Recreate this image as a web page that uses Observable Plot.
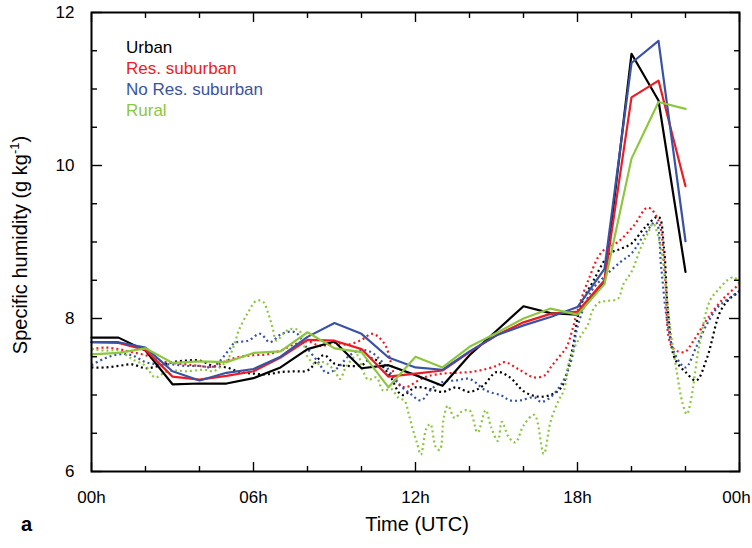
<!DOCTYPE html>
<html><head><meta charset="utf-8">
<script src="https://cdn.jsdelivr.net/npm/d3@7"></script>
<script src="https://cdn.jsdelivr.net/npm/@observablehq/plot@0.6"></script>
<style>body{margin:0;background:#fff;} svg{display:block}</style>
</head><body><div id="chart"></div>
<script>
// ---- categories / labels ----
const seriesNames = ["Urban", "Res. suburban", "No Res. suburban", "Rural"];
const seriesColors = ["#000000", "#ed1c24", "#3953a4", "#8dc63f"];
const xMajor = [0, 6, 12, 18, 24];
const xTickLabels = ["00h", "06h", "12h", "18h", "00h"];
const xMinor = [2, 4, 8, 10, 14, 16, 20, 22];
const yMajor = [6, 8, 10, 12];
const yMinor = [6.5, 7, 7.5, 8.5, 9, 9.5, 10.5, 11, 11.5];

// ---- solid lines: hourly values (00h .. 22h) ----
const hours = [0,1,2,3,4,5,6,7,8,9,10,11,12,13,14,15,16,17,18,19,20,21,22];
const urbanSolid    = [7.75,7.75,7.58,7.14,7.15,7.15,7.22,7.36,7.60,7.70,7.35,7.39,7.26,7.12,7.52,7.84,8.16,8.07,8.05,8.47,11.46,10.85,8.61];
const resSubSolid   = [7.69,7.68,7.59,7.24,7.20,7.25,7.31,7.49,7.72,7.71,7.60,7.24,7.28,7.32,7.56,7.78,7.95,8.06,8.09,8.50,10.89,11.11,9.73];
const noResSubSolid = [7.69,7.69,7.62,7.31,7.19,7.29,7.34,7.50,7.76,7.94,7.80,7.49,7.36,7.33,7.57,7.78,7.91,8.02,8.15,8.65,11.34,11.63,9.01];
const ruralSolid    = [7.53,7.55,7.61,7.42,7.44,7.43,7.55,7.57,7.82,7.61,7.56,7.10,7.50,7.36,7.63,7.81,8.00,8.13,8.05,8.45,10.09,10.83,10.74];

// ---- dotted lines: [hour, value] ----
const urbanDotted = [[0,7.36],[0.5,7.36],[1,7.38],[1.5,7.40],[2,7.35],[2.5,7.38],[3,7.43],[3.5,7.45],[4,7.45],[4.5,7.38],[5,7.36],[5.5,7.30],[6,7.28],[6.5,7.27],[7,7.30],[7.5,7.31],[8,7.32],[8.6,7.52],[9,7.41],[9.5,7.38],[10,7.39],[10.4,7.48],[11,7.28],[11.5,7.00],[12,7.10],[12.5,7.08],[13,7.04],[13.5,7.10],[14,7.04],[14.5,7.12],[15,7.30],[15.5,7.23],[16,7.05],[16.5,6.98],[17,7.00],[17.4,7.10],[17.8,7.58],[18.1,8.15],[18.6,8.50],[19.2,8.85],[19.6,8.91],[20,8.98],[20.5,9.19],[21,9.33],[21.2,8.93],[21.35,8.10],[21.6,7.48],[22,7.30],[22.4,7.19],[22.8,7.49],[23.3,8.10],[23.7,8.28],[24,8.34]];
const resSubDotted = [[0,7.60],[0.5,7.62],[1,7.60],[1.5,7.56],[2,7.52],[2.5,7.45],[3,7.42],[3.5,7.40],[4,7.38],[4.5,7.37],[5,7.45],[5.5,7.50],[6,7.52],[6.5,7.53],[7,7.58],[7.5,7.66],[8,7.70],[8.5,7.64],[9,7.68],[9.5,7.66],[10,7.72],[10.4,7.80],[10.85,7.67],[11.3,7.19],[11.6,7.10],[12.2,7.21],[12.5,7.25],[13,7.28],[13.5,7.29],[14,7.30],[14.5,7.33],[15,7.38],[15.3,7.43],[15.8,7.34],[16.4,7.23],[16.8,7.26],[17,7.36],[17.3,7.49],[17.6,7.63],[17.8,7.84],[18,8.10],[18.4,8.50],[18.9,8.87],[19.5,9.00],[20.1,9.22],[20.6,9.45],[21,9.28],[21.25,8.50],[21.5,7.63],[21.95,7.56],[22.3,7.71],[22.8,7.99],[23.4,8.26],[24,8.45]];
const noResSubDotted = [[0,7.39],[0.5,7.48],[1,7.53],[1.5,7.52],[2,7.43],[2.5,7.40],[3,7.40],[3.5,7.38],[4,7.38],[4.5,7.37],[5.07,7.58],[5.3,7.68],[5.8,7.71],[6.25,7.80],[6.6,7.69],[7.05,7.80],[7.55,7.82],[7.9,7.65],[8.4,7.43],[8.7,7.29],[9.1,7.35],[9.5,7.50],[9.9,7.58],[10.3,7.57],[10.85,7.40],[11.35,7.15],[11.8,7.02],[12.2,6.93],[12.6,7.08],[13,7.17],[13.5,7.19],[14,7.21],[14.6,7.06],[15.2,6.99],[15.5,6.93],[15.9,6.93],[16.4,6.97],[16.65,6.91],[17,6.97],[17.4,7.14],[17.6,7.28],[17.8,7.49],[18,7.89],[18.5,8.35],[19,8.55],[19.6,8.74],[20,8.85],[20.5,9.11],[20.9,9.26],[21.1,8.67],[21.3,8.02],[21.6,7.54],[22,7.36],[22.4,7.63],[22.8,7.93],[23.2,8.15],[23.6,8.26],[24,8.36]];
const ruralDotted = [[0,7.60],[0.5,7.58],[1,7.58],[1.5,7.47],[2,7.38],[2.35,7.23],[2.75,7.30],[3.1,7.32],[3.5,7.31],[4.2,7.33],[4.5,7.31],[4.85,7.39],[5.1,7.50],[5.3,7.67],[5.45,7.84],[5.8,8.08],[6.1,8.23],[6.35,8.22],[6.55,8.06],[6.7,7.89],[6.85,7.71],[7.1,7.80],[7.35,7.86],[7.7,7.84],[8.0,7.50],[8.3,7.40],[8.6,7.43],[9.0,7.32],[9.2,7.21],[9.45,7.38],[9.85,7.52],[10.05,7.32],[10.25,7.20],[10.55,7.23],[10.8,7.06],[11.1,7.08],[11.35,6.97],[11.6,6.92],[11.75,6.75],[11.9,6.55],[12.05,6.38],[12.2,6.22],[12.4,6.56],[12.55,6.62],[12.75,6.32],[12.9,6.28],[13.05,6.71],[13.2,6.86],[13.45,6.70],[13.7,6.78],[14.0,6.80],[14.3,6.51],[14.6,6.80],[14.8,6.58],[15.05,6.40],[15.2,6.65],[15.45,6.45],[15.7,6.38],[16.0,6.60],[16.4,6.74],[16.75,6.23],[17.0,6.65],[17.3,6.93],[17.5,7.06],[17.7,7.45],[17.9,7.63],[18.1,7.76],[18.4,7.93],[18.55,8.10],[18.8,8.21],[19.1,8.23],[19.5,8.26],[19.7,8.45],[20,8.61],[20.35,8.93],[20.6,9.11],[20.8,9.24],[21.0,9.06],[21.2,8.67],[21.4,7.97],[21.65,7.36],[21.9,6.88],[22.05,6.75],[22.2,6.93],[22.5,7.63],[22.9,8.23],[23.2,8.37],[23.55,8.50],[23.8,8.54],[24,8.45]];

const solidSeries = [urbanSolid, resSubSolid, noResSubSolid, ruralSolid];
const dottedSeries = [urbanDotted, resSubDotted, noResSubDotted, ruralDotted];

const solidRows = solidSeries.map(vals => hours.map((h, i) => ({h, v: vals[i]})));
const dottedRows = dottedSeries.map(pairs => pairs.map(([h, v]) => ({h, v})));

const tickStroke = 1.4;
const blank = () => "";
const xLabel = d => xTickLabels[xMajor.indexOf(d)];

const chart = Plot.plot({
  width: 752, height: 548,
  marginTop: 12, marginBottom: 77, marginLeft: 91, marginRight: 13,
  style: {fontFamily: "'Liberation Sans', Arial, Helvetica, sans-serif", fontSize: "17px", background: "#fff", color: "#000", overflow: "visible"},
  x: {domain: [0, 24], label: null},
  y: {domain: [6, 12], label: null},
  marks: [
    ...dottedRows.map((rows, i) => Plot.line(rows, {x: "h", y: "v", stroke: seriesColors[i], strokeWidth: 2.2, strokeDasharray: "2,3", strokeLinecap: "butt", curve: "catmull-rom"})),
    ...[0, 1, 2, 3].map(i => Plot.line(solidRows[i], {x: "h", y: "v", stroke: seriesColors[i], strokeWidth: 2.2})),
    // bottom ticks (inward) and labels
    Plot.axisX({anchor: "bottom", ticks: xMajor, tickSize: -9, tickFormat: blank, label: null, strokeWidth: tickStroke}),
    Plot.axisX({anchor: "bottom", ticks: xMajor.slice(0, 4), tickSize: 0, tickPadding: 19, tickFormat: xLabel, label: null}),
    Plot.axisX({anchor: "bottom", ticks: xMajor.slice(4), tickSize: 0, tickPadding: 19, dx: -3, tickFormat: xLabel, label: null}),
    Plot.axisX({anchor: "bottom", ticks: xMinor, tickSize: -5, tickFormat: blank, label: null, strokeWidth: tickStroke}),
    // top ticks
    Plot.axisX({anchor: "top", ticks: xMajor, tickSize: -9, tickFormat: blank, label: null, strokeWidth: tickStroke}),
    Plot.axisX({anchor: "top", ticks: xMinor, tickSize: -5, tickFormat: blank, label: null, strokeWidth: tickStroke}),
    // left ticks and labels
    Plot.axisY({anchor: "left", ticks: yMajor, tickSize: -11, tickPadding: 28, tickFormat: d => String(d), label: null, strokeWidth: tickStroke}),
    Plot.axisY({anchor: "left", ticks: yMinor, tickSize: -6, tickFormat: blank, label: null, strokeWidth: tickStroke}),
    // right ticks
    Plot.axisY({anchor: "right", ticks: yMajor, tickSize: -11, tickFormat: blank, label: null, strokeWidth: tickStroke}),
    Plot.axisY({anchor: "right", ticks: yMinor, tickSize: -6, tickFormat: blank, label: null, strokeWidth: tickStroke}),
    Plot.frame({stroke: "#000", strokeWidth: 2})
  ]
});
document.getElementById("chart").appendChild(chart);

const svg = d3.select(chart);
const font = "'Liberation Sans', Arial, Helvetica, sans-serif";
// legend
seriesNames.forEach((name, i) => {
  svg.append("text").attr("x", 126).attr("y", 53 + i * 21).attr("text-anchor", "start")
    .attr("fill", seriesColors[i]).attr("font-family", font).attr("font-size", 17).text(name);
});
// axis titles
svg.append("text").attr("x", 417).attr("y", 531).attr("text-anchor", "middle")
  .attr("font-family", font).attr("font-size", 20).text("Time (UTC)");
svg.append("text").attr("x", 21).attr("y", 531).attr("text-anchor", "start")
  .attr("font-family", font).attr("font-size", 20).attr("font-weight", "bold").text("a");
const yt = svg.append("text").attr("transform", "translate(27,245) rotate(-90)").attr("text-anchor", "middle")
  .attr("font-family", font).attr("font-size", 20);
yt.append("tspan").text("Specific humidity (g kg");
yt.append("tspan").attr("font-size", 13).attr("dy", -8).text("-1");
yt.append("tspan").attr("dy", 8).text(")");
</script>
</body></html>
